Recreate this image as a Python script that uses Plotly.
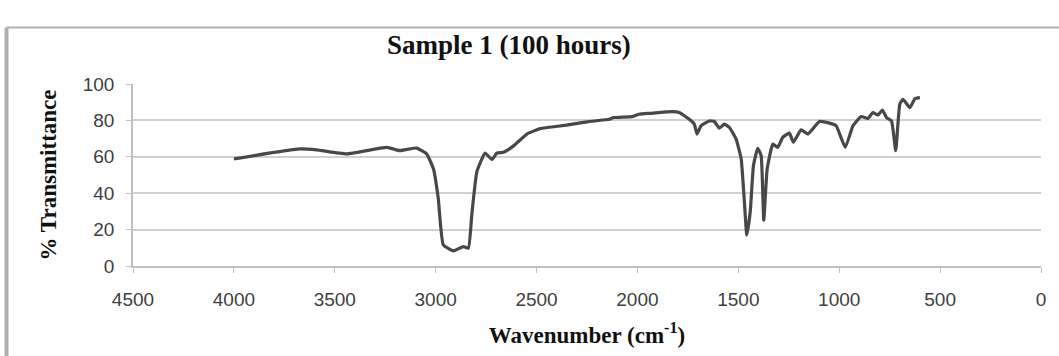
import plotly.graph_objects as go

wavenumber = [4000, 3674, 3590, 3442, 3243, 3177, 3094, 3045, 3011, 2987, 2962, 2912, 2863, 2838,
              2821, 2796, 2755, 2721, 2697, 2664, 2614, 2548, 2482, 2350, 2250, 2140, 2118, 2025,
              1992, 1936, 1826, 1793, 1743, 1718, 1705, 1685, 1644, 1619, 1594, 1569, 1544, 1511,
              1486, 1470, 1458, 1441, 1425, 1404, 1387, 1374, 1357, 1329, 1305, 1280, 1247, 1227,
              1189, 1155, 1098, 1048, 1015, 970, 932, 891, 858, 833, 808, 786, 766, 741, 720, 700,
              684, 650, 625, 600]
transmittance = [58.9, 64.3, 63.8, 61.6, 65.2, 63.4, 64.8, 61.6, 53.4, 37.0, 11.6, 8.3, 10.7, 9.8,
                 28.0, 51.7, 62.0, 58.5, 62.0, 62.5, 66.0, 72.5, 75.5, 77.4, 79.2, 80.6, 81.6, 82.1,
                 83.4, 83.9, 84.8, 84.3, 80.6, 77.9, 72.5, 77.0, 79.7, 79.4, 75.7, 77.9, 76.1, 69.7,
                 58.9, 35.2, 17.0, 29.8, 55.2, 64.7, 60.7, 25.2, 53.4, 67.0, 65.2, 70.7, 73.0, 68.0,
                 74.8, 72.5, 79.4, 78.5, 77.0, 65.2, 77.0, 82.1, 81.0, 84.3, 83.0, 85.7, 81.6, 79.7,
                 63.4, 88.8, 91.6, 87.0, 91.9, 92.5]

x_ticks = [4500, 4000, 3500, 3000, 2500, 2000, 1500, 1000, 500, 0]
y_ticks = [0, 20, 40, 60, 80, 100]

fig = go.Figure()
fig.add_trace(go.Scatter(
    x=wavenumber, y=transmittance, mode="lines",
    line=dict(color="#484848", width=3.2, shape="spline", smoothing=0.4),
    showlegend=False,
))

tick_font = dict(family="Liberation Sans, Arial", size=19, color="#404040")
title_font = dict(family="Liberation Serif, Times New Roman", size=23, color="#111111")

fig.update_layout(
    width=1059, height=356,
    margin=dict(l=133, r=18, t=84, b=88),
    paper_bgcolor="white", plot_bgcolor="white",
    title=dict(text="<b>Sample 1 (100 hours)</b>", x=0.4806, xanchor="center",
               y=1 - 45 / 356, yanchor="middle", yref="container",
               font=dict(family="Liberation Serif, Times New Roman", size=27, color="#111111")),
    xaxis=dict(
        range=[4500, 0], tickvals=x_ticks, ticktext=[str(v) for v in x_ticks],
        showgrid=False, zeroline=False, showline=True, linecolor="#c0c0c0", linewidth=1.5,
        ticks="outside", ticklen=5, tickcolor="#c0c0c0", tickfont=tick_font,
        ticklabelstandoff=10,
        title=dict(text="<b>Wavenumber (cm<sup>-1</sup>)</b>", font=title_font, standoff=18),
    ),
    yaxis=dict(
        range=[0, 100], tickvals=y_ticks, showgrid=True, gridcolor="#d0d0d0", gridwidth=1.8,
        zeroline=False, showline=True, linecolor="#c0c0c0", linewidth=1.5,
        ticks="outside", ticklen=5, tickcolor="#c0c0c0", tickfont=tick_font,
        ticklabelstandoff=8,
        title=dict(text="<b>% Transmittance</b>", font=title_font, standoff=20),
    ),
    shapes=[
        dict(type="line", xref="paper", yref="paper", x0=-0.1393, x1=-0.1393, y0=-0.5, y1=1.3098,
             line=dict(color="#b0b0b0", width=4)),
        dict(type="line", xref="paper", yref="paper", x0=-0.1393, x1=1.1, y0=1.3098, y1=1.3098,
             line=dict(color="#b0b0b0", width=2)),
    ],
)

fig.write_html("out.html", config={"displayModeBar": False},
               post_script="document.body.style.margin='0';")
